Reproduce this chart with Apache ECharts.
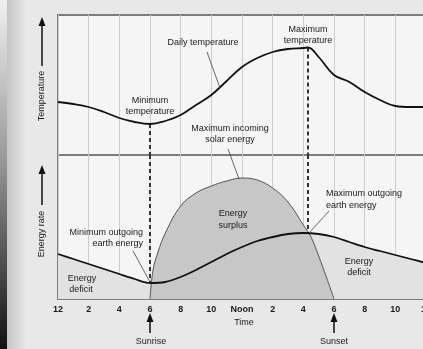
<!DOCTYPE html>
<html>
<head>
<meta charset="utf-8">
<script src="https://cdn.jsdelivr.net/npm/echarts@6/dist/echarts.min.js"></script>
<style>
html,body{margin:0;padding:0;background:#e8e8e8;}
#c{width:423px;height:349px;}
</style>
</head>
<body>
<div id="c"></div>
<script>
// ---- data (hours of day, arbitrary units) ----
const tickLabels = ['12','2','4','6','8','10','Noon','2','4','6','8','10','12'];
const tempHours  = [0,1,2,3,4,5,6,7,8,9,10,11,12,13,14,15,16,16.3,17,18,19,20,21,22,23,24];
const tempValues = [53,51,48,43,37,33,31,34,40,50,60,74,88,97,103,106,107,107.5,98,80,73,63,55,49,48,48];
const solarHours  = [6,6.2,6.5,7,8,9,10,11,12,13,14,15,16,16.5,17,17.5,17.8,18];
const solarValues = [0,29,46,66,93,106,113,118,121,119,111,97,74,62,43,22,9,0];
const earthHours  = [0,1,2,3,4,5,6,7,8,9,10,11,12,13,14,15,16,17,18,19,20,21,22,23,24];
const earthValues = [45,40,35,30,25,20,16,17,22,29,37,45,52,58,62,65,66,65,62,57,52,48,44,40,36];
const minTempHour = 6, minTemp = 31, minEarth = 16;
const maxTempHour = 16.3, maxTemp = 107.5, maxEarth = 66;
const topMax = 140, bottomMax = 144;

const zip = (a, b) => a.map((v, i) => [v, b[i]]);
const FONT = '"Liberation Sans", Arial, sans-serif';
const dash = {type: [4, 3], color: '#333', width: 2};

const chart = echarts.init(document.getElementById('c'), null, {renderer: 'canvas'});

function txt(s, x, y, align) {
  return {type: 'text', x: x, y: y, z: 50, silent: true,
    style: {text: s, fill: '#1a1a1a', font: '9px ' + FONT,
      align: align || 'center', verticalAlign: 'middle'}};
}
function leader(x1, y1, x2, y2) {
  return {type: 'line', z: 50, silent: true, shape: {x1, y1, x2, y2},
    style: {stroke: '#444', lineWidth: 0.8}};
}
function upArrow(x, tip, bottom) {
  return [
    {type: 'line', z: 50, silent: true, shape: {x1: x, y1: bottom, x2: x, y2: tip + 6},
      style: {stroke: '#111', lineWidth: 1.5}},
    {type: 'polygon', z: 50, silent: true,
      shape: {points: [[x, tip], [x - 3.5, tip + 9], [x + 3.5, tip + 9]]},
      style: {fill: '#111'}}
  ];
}
function rotText(s, x, y) {
  return {type: 'text', x: x, y: y, rotation: Math.PI / 2, z: 50, silent: true,
    style: {text: s, fill: '#1a1a1a', font: '9px ' + FONT, align: 'center', verticalAlign: 'middle'}};
}

const axisBase = {type: 'value', min: 0, max: 24, interval: 2,
  axisLine: {show: false}, axisTick: {show: false},
  splitLine: {show: true, lineStyle: {color: '#cdcdcd', width: 1}}};

const option = {
  animation: false,
  backgroundColor: '#e8e8e8',
  grid: [
    {left: 58, top: 15, width: 368, height: 140, show: true, backgroundColor: '#f5f5f5',
      borderColor: '#7d7d7d', borderWidth: 2, outerBoundsMode: 'none', containLabel: false},
    {left: 58, top: 155, width: 368, height: 144, show: true, backgroundColor: '#f5f5f5',
      borderColor: '#7d7d7d', borderWidth: 2, outerBoundsMode: 'none', containLabel: false}
  ],
  xAxis: [
    Object.assign({gridIndex: 0, axisLabel: {show: false}}, axisBase),
    Object.assign({gridIndex: 1,
      axisLabel: {show: true, margin: 6, color: '#1a1a1a', fontSize: 9, fontWeight: 'bold',
        fontFamily: FONT, formatter: v => tickLabels[Math.round(v / 2)]}}, axisBase,
      {axisLine: {show: true, lineStyle: {color: '#7d7d7d', width: 2}}})
  ],
  yAxis: [
    {gridIndex: 0, type: 'value', min: 0, max: topMax, show: false},
    {gridIndex: 1, type: 'value', min: 0, max: bottomMax, show: false}
  ],
  series: [
    {name: 'Daily temperature', type: 'line', xAxisIndex: 0, yAxisIndex: 0,
      data: zip(tempHours, tempValues), smooth: 0.4, showSymbol: false, z: 5,
      lineStyle: {color: '#111', width: 1.8},
      markLine: {silent: true, symbol: ['none', 'none'], label: {show: false}, lineStyle: dash,
        data: [[{coord: [minTempHour, minTemp]}, {coord: [minTempHour, 0]}],
               [{coord: [maxTempHour, maxTemp]}, {coord: [maxTempHour, 0]}]]}},
    {name: 'earth fill', type: 'line', xAxisIndex: 1, yAxisIndex: 1,
      data: zip(earthHours, earthValues), smooth: 0.3, showSymbol: false, z: 2,
      lineStyle: {width: 0}, areaStyle: {color: '#e2e2e2', opacity: 1}},
    {name: 'Incoming solar energy', type: 'line', xAxisIndex: 1, yAxisIndex: 1,
      data: zip(solarHours, solarValues), smooth: 0.4, showSymbol: false, z: 3,
      lineStyle: {color: '#555', width: 1}, areaStyle: {color: '#c7c7c7', opacity: 1}},
    {name: 'Outgoing earth energy', type: 'line', xAxisIndex: 1, yAxisIndex: 1,
      data: zip(earthHours, earthValues), smooth: 0.3, showSymbol: false, z: 5,
      lineStyle: {color: '#111', width: 1.8},
      markLine: {silent: true, symbol: ['none', 'none'], label: {show: false}, lineStyle: dash,
        data: [[{coord: [minTempHour, bottomMax]}, {coord: [minTempHour, minEarth]}],
               [{coord: [maxTempHour, bottomMax]}, {coord: [maxTempHour, maxEarth]}]]}}
  ],
  graphic: [
    {type: 'rect', z: 40, silent: true, shape: {x: 0, y: 0, width: 26, height: 349},
      style: {fill: new echarts.graphic.LinearGradient(0, 0, 1, 0,
        [{offset: 0, color: '#b8b8b8'}, {offset: 0.5, color: '#cfcfcf'}, {offset: 1, color: '#e8e8e8'}])}},
    {type: 'rect', z: 41, silent: true, shape: {x: 0, y: 0, width: 7, height: 349},
      style: {fill: new echarts.graphic.LinearGradient(0, 0, 0, 1,
        [{offset: 0, color: '#f0f0f0'}, {offset: 0.45, color: '#9a9a9a'}, {offset: 1, color: '#111'}])}},
    rotText('Temperature', 42, 96),
    ...upArrow(42, 17, 66),
    rotText('Energy rate', 42, 234),
    ...upArrow(42, 165, 205),
    txt('Daily temperature', 203, 43),
    leader(207, 52, 220, 88),
    txt('Maximum', 308, 30), txt('temperature', 308, 41),
    txt('Minimum', 150, 101), txt('temperature', 150, 112),
    txt('Maximum incoming', 230, 129), txt('solar energy', 230, 140),
    leader(228, 149, 239, 179),
    txt('Energy', 233, 214), txt('surplus', 233, 226),
    txt('Maximum outgoing', 326, 194, 'left'), txt('earth energy', 326, 206, 'left'),
    leader(329, 211, 309, 233),
    txt('Energy', 359, 262), txt('deficit', 359, 273),
    txt('Minimum outgoing', 143, 233, 'right'), txt('earth energy', 143, 244, 'right'),
    leader(133, 251, 150, 282),
    txt('Energy', 82, 279), txt('deficit', 81, 290),
    txt('Time', 244, 323),
    ...upArrow(150, 313, 333),
    txt('Sunrise', 151, 342),
    ...upArrow(334, 313, 333),
    txt('Sunset', 334, 342)
  ]
};
chart.setOption(option);
</script>
</body>
</html>
